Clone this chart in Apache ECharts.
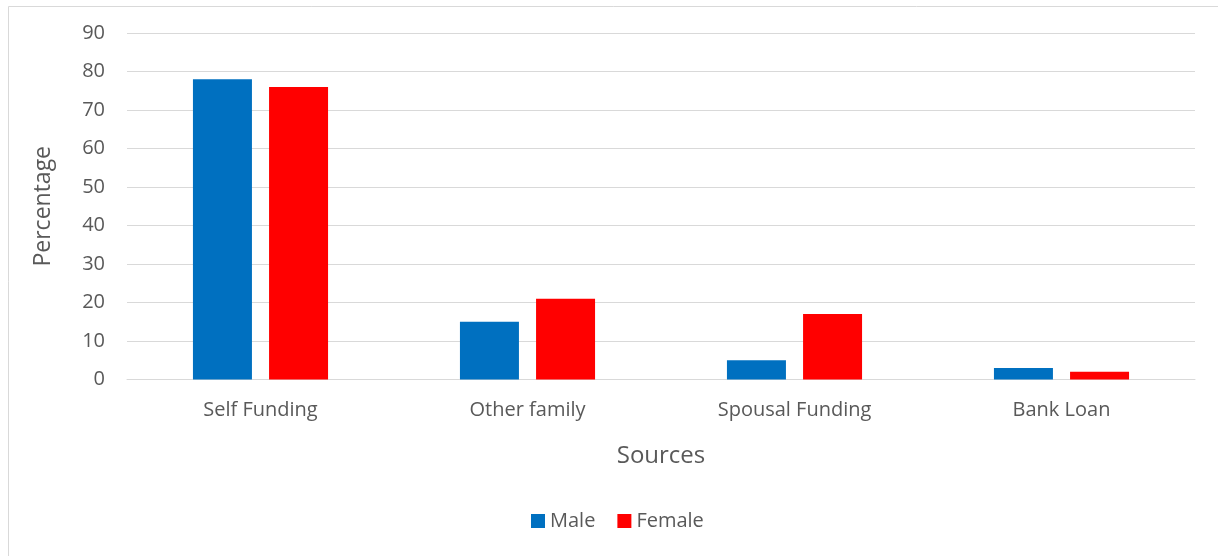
<!DOCTYPE html>
<html>
<head>
<meta charset="utf-8">
<script src="https://cdn.jsdelivr.net/npm/echarts@6/dist/echarts.min.js"></script>
<style>
html,body{margin:0;padding:0;background:#fff;}
#c{width:1218px;height:556px;}
</style>
</head>
<body>
<div id="c"></div>
<script>
const categories = ['Self Funding', 'Other family', 'Spousal Funding', 'Bank Loan'];
const maleValues = [78, 15, 5, 3];
const femaleValues = [76, 21, 17, 2];
const yTicks = [0, 10, 20, 30, 40, 50, 60, 70, 80, 90];

const font = '"Open Sans", "Noto Sans", sans-serif';
const txt = '#595959';
const chart = echarts.init(document.getElementById('c'));
chart.setOption({
  animation: false,
  backgroundColor: '#fff',
  graphic: [{
    type: 'rect', left: 6, top: 4, silent: true,
    shape: { x: 0, y: 0, width: 1240, height: 580 },
    style: { fill: 'none', stroke: '#d9d9d9', lineWidth: 1 }
  }],
  grid: { left: 127, right: 23, top: 33, bottom: 176.5 },
  legend: {
    bottom: 20, left: 526,
    itemWidth: 14, itemHeight: 14, itemGap: 22, icon: 'rect',
    textStyle: { color: txt, fontSize: 20, fontFamily: font },
    data: ['Male', 'Female']
  },
  xAxis: {
    type: 'category', data: categories,
    name: 'Sources', nameLocation: 'middle', nameGap: 65,
    nameTextStyle: { color: txt, fontSize: 24, fontFamily: font },
    axisLine: { lineStyle: { color: '#d9d9d9' } },
    axisTick: { show: false },
    axisLabel: { color: txt, fontSize: 20, fontFamily: font, margin: 21 }
  },
  yAxis: {
    type: 'value', min: yTicks[0], max: yTicks[yTicks.length - 1], interval: 10,
    name: 'Percentage', nameLocation: 'middle', nameGap: 72,
    nameTextStyle: { color: txt, fontSize: 23, fontFamily: font },
    axisLine: { show: false }, axisTick: { show: false },
    axisLabel: { color: txt, fontSize: 20, fontFamily: font, margin: 22 },
    splitLine: { lineStyle: { color: '#d9d9d9', width: 1 } }
  },
  series: [
    { name: 'Male', type: 'bar', data: maleValues, barWidth: 59, barGap: '29%',
      itemStyle: { color: '#0070c0' } },
    { name: 'Female', type: 'bar', data: femaleValues, barWidth: 59,
      itemStyle: { color: '#ff0000' } }
  ]
});
</script>
</body>
</html>
